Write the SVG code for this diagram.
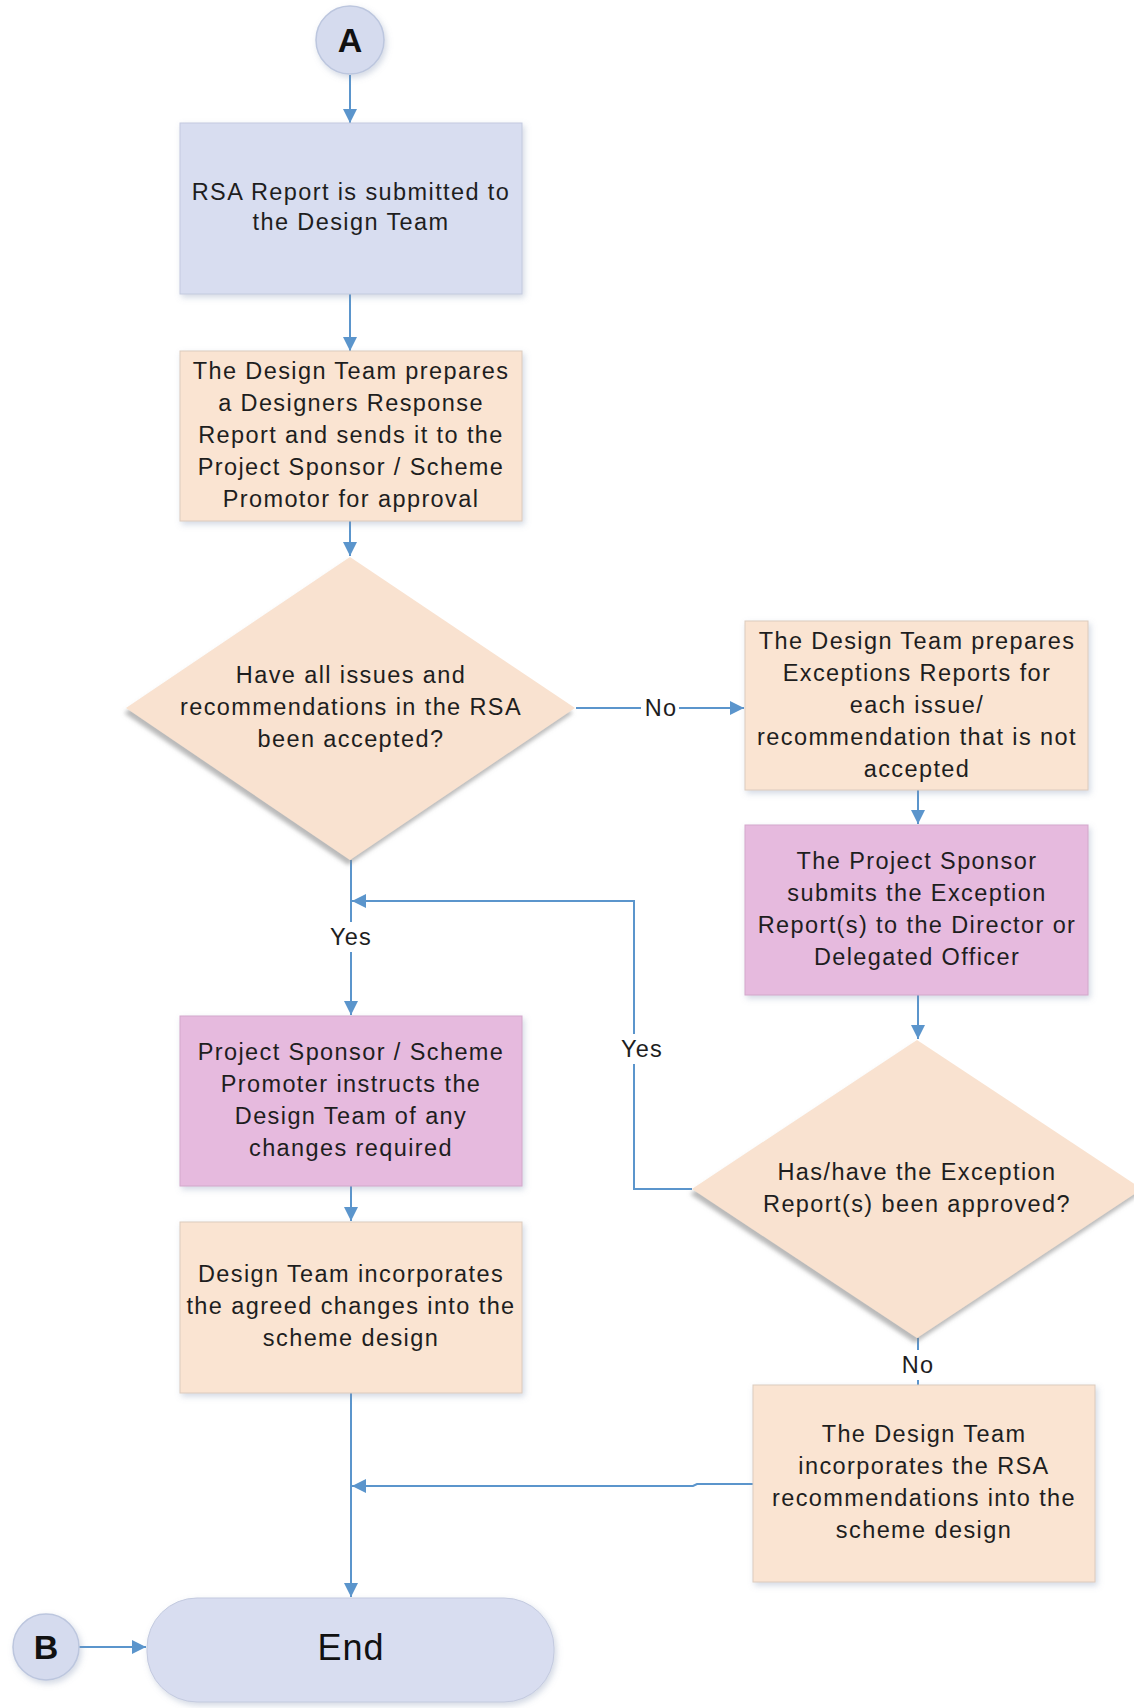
<svg xmlns="http://www.w3.org/2000/svg" width="1134" height="1708" viewBox="0 0 1134 1708">
<defs>
<style>
.t{font-family:"Liberation Sans",Arial,sans-serif;font-size:23.5px;letter-spacing:1.4px;fill:#1e1e1e;text-anchor:middle}
.lbl{font-family:"Liberation Sans",Arial,sans-serif;font-size:23.5px;letter-spacing:1.2px;fill:#1e1e1e;text-anchor:middle}
.big{font-family:"Liberation Sans",Arial,sans-serif;font-weight:bold;font-size:34px;fill:#111;text-anchor:middle}
.end{font-family:"Liberation Sans",Arial,sans-serif;font-size:36px;letter-spacing:1px;fill:#111;text-anchor:middle}
.blue{fill:#D8DDF0;stroke:#C3CADF;stroke-width:1}
.orange{fill:#FAE4D2;stroke:#DCCBBE;stroke-width:1}
.pink{fill:#E6BADE;stroke:#D3A8CB;stroke-width:1}
.dia{fill:#F9E2D0}
.c{fill:none;stroke:#5B95CC;stroke-width:2}
.bg{fill:#ffffff}
</style>
<filter id="sh" x="-10%" y="-10%" width="125%" height="130%">
<feDropShadow dx="2" dy="3" stdDeviation="3" flood-color="#8090b0" flood-opacity="0.35"/>
</filter>
<filter id="dsh" x="-10%" y="-10%" width="120%" height="125%">
<feDropShadow dx="-2" dy="5" stdDeviation="2" flood-color="#808080" flood-opacity="0.55"/>
</filter>
<marker id="ah" viewBox="0 0 14 14" refX="14" refY="7" markerWidth="14" markerHeight="14" markerUnits="userSpaceOnUse" orient="auto">
<path d="M0,0 L14,7 L0,14 Z" fill="#5B95CC"/>
</marker>
</defs>
<rect width="1134" height="1708" fill="#ffffff"/>

<g id="connectors">
<path class="c" d="M350,75 V123" marker-end="url(#ah)"/>
<path class="c" d="M350,294 V351" marker-end="url(#ah)"/>
<path class="c" d="M350,521 V556" marker-end="url(#ah)"/>
<path class="c" d="M351,860 V1015" marker-end="url(#ah)"/>
<path class="c" d="M576,708 H744" marker-end="url(#ah)"/>
<path class="c" d="M918,790 V824" marker-end="url(#ah)"/>
<path class="c" d="M918,995 V1039" marker-end="url(#ah)"/>
<path class="c" d="M692,1189 H634 V901 H352" marker-end="url(#ah)"/>
<path class="c" d="M351,1186 V1221" marker-end="url(#ah)"/>
<path class="c" d="M351,1393 V1597" marker-end="url(#ah)"/>
<path class="c" d="M918,1338 V1385"/>
<path class="c" d="M753,1484 H697 L693,1486 H352" marker-end="url(#ah)"/>
<path class="c" d="M79,1647 H146" marker-end="url(#ah)"/>
<rect class="bg" x="326" y="922" width="50" height="30"/>
<text class="lbl" x="351" y="945">Yes</text>
<rect class="bg" x="641" y="694" width="38" height="28"/>
<text class="lbl" x="661" y="716">No</text>
<rect class="bg" x="617" y="1034" width="50" height="30"/>
<text class="lbl" x="642" y="1057">Yes</text>
<rect class="bg" x="899" y="1350" width="38" height="30"/>
<text class="lbl" x="918" y="1373">No</text>
</g>

<g id="nodeA">
<circle cx="350" cy="40" r="34" fill="#D5DBEE" stroke="#BCC6DE" stroke-width="1.5" filter="url(#sh)"/>
<text class="big" x="350" y="52">A</text>
</g>

<g id="box1">
<rect class="blue" x="180" y="123" width="342" height="171" filter="url(#sh)"/>
<text class="t" x="351" y="200">RSA Report is submitted to</text>
<text class="t" x="351" y="230">the Design Team</text>
</g>

<g id="box2">
<rect class="orange" x="180" y="351" width="342" height="170" filter="url(#sh)"/>
<text class="t" x="351" y="379">The Design Team prepares</text>
<text class="t" x="351" y="411">a Designers Response</text>
<text class="t" x="351" y="443">Report and sends it to the</text>
<text class="t" x="351" y="475">Project Sponsor / Scheme</text>
<text class="t" x="351" y="507">Promotor for approval</text>
</g>

<g id="decision1">
<polygon class="dia" points="350,557 575,708 350,860 126,708" filter="url(#dsh)"/>
<text class="t" x="351" y="683">Have all issues and</text>
<text class="t" x="351" y="715">recommendations in the RSA</text>
<text class="t" x="351" y="747">been accepted?</text>
</g>

<g id="box3">
<rect class="orange" x="745" y="621" width="343" height="169" filter="url(#sh)"/>
<text class="t" x="917" y="649">The Design Team prepares</text>
<text class="t" x="917" y="681">Exceptions Reports for</text>
<text class="t" x="917" y="713">each issue/</text>
<text class="t" x="917" y="745">recommendation that is not</text>
<text class="t" x="917" y="777">accepted</text>
</g>

<g id="box4">
<rect class="pink" x="745" y="825" width="343" height="170" filter="url(#sh)"/>
<text class="t" x="917" y="869">The Project Sponsor</text>
<text class="t" x="917" y="901">submits the Exception</text>
<text class="t" x="917" y="933">Report(s) to the Director or</text>
<text class="t" x="917" y="965">Delegated Officer</text>
</g>

<g id="decision2">
<polygon class="dia" points="917,1040 1142,1189 917,1338 692,1189" filter="url(#dsh)"/>
<text class="t" x="917" y="1180">Has/have the Exception</text>
<text class="t" x="917" y="1212">Report(s) been approved?</text>
</g>

<g id="box5">
<rect class="pink" x="180" y="1016" width="342" height="170" filter="url(#sh)"/>
<text class="t" x="351" y="1060">Project Sponsor / Scheme</text>
<text class="t" x="351" y="1092">Promoter instructs the</text>
<text class="t" x="351" y="1124">Design Team of any</text>
<text class="t" x="351" y="1156">changes required</text>
</g>

<g id="box6">
<rect class="orange" x="180" y="1222" width="342" height="171" filter="url(#sh)"/>
<text class="t" x="351" y="1282">Design Team incorporates</text>
<text class="t" x="351" y="1314">the agreed changes into the</text>
<text class="t" x="351" y="1346">scheme design</text>
</g>

<g id="box7">
<rect class="orange" x="753" y="1385" width="342" height="197" filter="url(#sh)"/>
<text class="t" x="924" y="1442">The Design Team</text>
<text class="t" x="924" y="1474">incorporates the RSA</text>
<text class="t" x="924" y="1506">recommendations into the</text>
<text class="t" x="924" y="1538">scheme design</text>
</g>

<g id="end">
<rect x="147" y="1598" width="407" height="104" rx="50" ry="50" fill="#D8DDF0" stroke="#C3CADF" stroke-width="1" filter="url(#sh)"/>
<text class="end" x="351" y="1660">End</text>
</g>

<g id="nodeB">
<circle cx="46" cy="1647" r="33" fill="#D5DBEE" stroke="#BCC6DE" stroke-width="1.5" filter="url(#sh)"/>
<text class="big" x="46" y="1659">B</text>
</g>
</svg>
